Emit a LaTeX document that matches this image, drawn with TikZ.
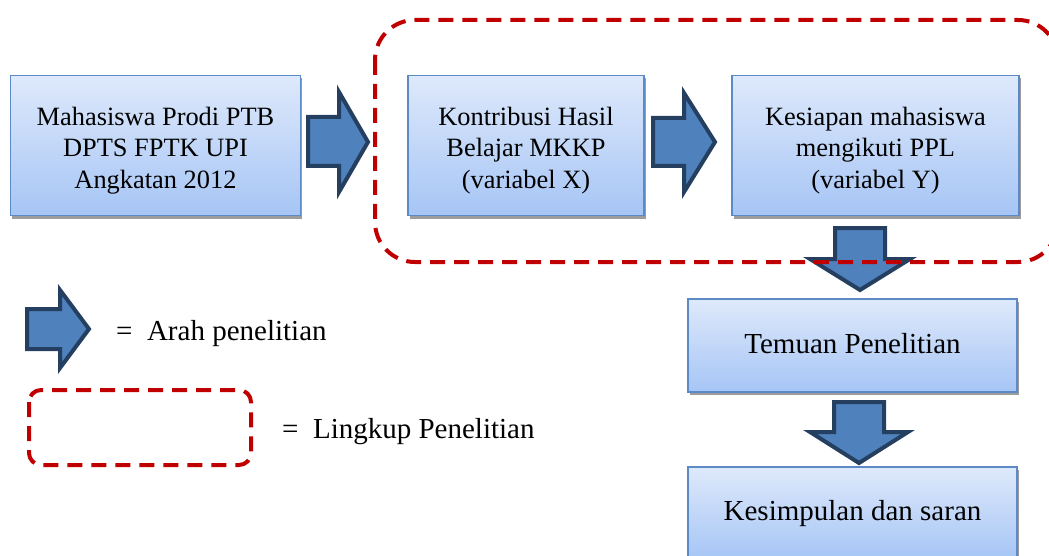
\documentclass[tikz,border=0pt]{standalone}
\usepackage{fontspec}
\setmainfont{Liberation Serif}
\usetikzlibrary{shadows}
\definecolor{boxtop}{HTML}{DEE9FB}
\definecolor{boxbot}{HTML}{A6C5F5}
\definecolor{boxline}{HTML}{5B8AC6}
\definecolor{arrfill}{HTML}{4F81BD}
\definecolor{arrline}{HTML}{243F60}
\definecolor{scopered}{HTML}{C00000}
\definecolor{shadowgray}{HTML}{9C9C9C}
\begin{document}
\begin{tikzpicture}[x=1pt,y=-1pt,
  flowbox/.style={draw=boxline, line width=1.5pt, top color=boxtop, bottom color=boxbot,
    drop shadow={shadow xshift=1.5pt, shadow yshift=-3pt, fill=shadowgray, opacity=1},
    inner sep=0pt, outer sep=0pt},
  boxtext/.style={align=center, font=\fontsize{26.4}{31.4}\selectfont, inner sep=0pt},
  bigtext/.style={font=\fontsize{29}{34}\selectfont, inner sep=0pt},
  blockarrow/.style={fill=arrfill, draw=arrline, line width=4pt, line join=miter},
  scopeline/.style={draw=scopered, line width=4pt, dash pattern=on 15pt off 9pt}
]
\useasboundingbox (0,0) rectangle (1049,556);

% boxes
\node[flowbox, minimum width=290pt, minimum height=140pt] (b1) at (155.5,145.5) {};
\node[flowbox, minimum width=236pt, minimum height=140pt] (b2) at (526,145.5) {};
\node[flowbox, minimum width=287pt, minimum height=140pt] (b3) at (875.5,145.5) {};
\node[flowbox, minimum width=329pt, minimum height=93pt] (b4) at (852.5,345.5) {};
\node[flowbox, minimum width=329pt, minimum height=92pt] (b5) at (852.5,513) {};

% box texts
\node[boxtext] (t1) at (155.5,150.5) {Mahasiswa Prodi PTB\\DPTS FPTK UPI\\Angkatan 2012};
\node[boxtext] (t2) at (526,150.5) {Kontribusi Hasil\\Belajar MKKP\\(variabel X)};
\node[boxtext] (t3) at (875.5,150.5) {Kesiapan mahasiswa\\mengikuti PPL\\(variabel Y)};
\node[bigtext, anchor=base] (t4) at (852.5,353) {Temuan Penelitian};
\node[bigtext, anchor=base] (t5) at (852.5,520) {Kesimpulan dan saran};

% block arrows
\draw[blockarrow] (308,117) -- (339,117) -- (339,92) -- (368,142) -- (339,192) -- (339,166) -- (308,166) -- cycle;
\draw[blockarrow] (653,118) -- (684,118) -- (684,93) -- (715,142) -- (684,192) -- (684,166) -- (653,166) -- cycle;
\draw[blockarrow] (835,228) -- (885,228) -- (885,259) -- (910,259) -- (860,290) -- (810,259) -- (835,259) -- cycle;
\draw[blockarrow] (834,402) -- (884,402) -- (884,432) -- (908,432) -- (859,463) -- (810,432) -- (834,432) -- cycle;

% legend arrow
\draw[blockarrow] (27,309) -- (60,309) -- (60,290) -- (89,329) -- (60,368) -- (60,349) -- (27,349) -- cycle;

% scope outlines
\draw[scopeline, rounded corners=40pt] (375,20) rectangle (1058,262);
\draw[scopeline, rounded corners=12pt] (29,390) rectangle (251,465);

% legend texts
\node[bigtext, anchor=base west] (l1) at (116,340) {=\ \ Arah penelitian};
\node[bigtext, anchor=base west] (l2) at (282,438) {=\ \ Lingkup Penelitian};
\end{tikzpicture}
\end{document}
